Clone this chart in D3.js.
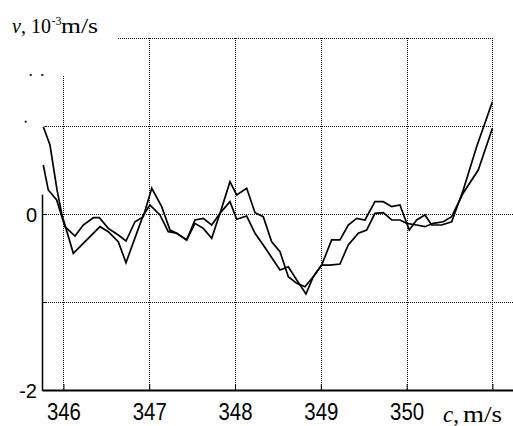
<!DOCTYPE html>
<html>
<head>
<meta charset="utf-8">
<script src="https://cdn.jsdelivr.net/npm/d3@7"></script>
<style>
  html, body { margin: 0; padding: 0; background: #fff; }
  svg { display: block; }
</style>
</head>
<body>
<script>
// ---------- data ----------
const xTicks = [346, 347, 348, 349, 350, 351];
const xTickLabels = ["346", "347", "348", "349", "350", ""];
const yTicks = [-2, -1, 0, 1, 2];
const yTickLabels = ["-2", "", "0", "", ""];

// series A: [c (m/s), v (10^-3 m/s)]
const seriesA = [
  [345.765, 0.992], [345.843, 0.784], [345.925, 0.273], [345.983, -0.011],
  [346.115, -0.447], [346.426, -0.144], [346.523, -0.201], [346.639, -0.315],
  [346.729, -0.553], [346.931, -0.011], [347.009, 0.102], [347.125, -0.011],
  [347.222, -0.201], [347.320, -0.219], [347.436, -0.295], [347.533, -0.106],
  [347.630, -0.163], [347.728, -0.276], [347.825, 0.008], [347.941, 0.140],
  [348.019, -0.060], [348.136, -0.023], [348.233, -0.219], [348.329, -0.352],
  [348.407, -0.466], [348.524, -0.636], [348.621, -0.599], [348.719, -0.750],
  [348.827, -0.909], [348.912, -0.713], [349.010, -0.580], [349.107, -0.580],
  [349.223, -0.568], [349.320, -0.352], [349.437, -0.219], [349.534, -0.182],
  [349.631, 0.008], [349.728, 0.015], [349.826, -0.068], [349.922, -0.068],
  [350.001, -0.106], [350.117, -0.125], [350.214, -0.144], [350.311, -0.106],
  [350.427, -0.088], [350.525, -0.031], [350.660, 0.239], [350.835, 0.500],
  [351.000, 0.974]
];

// series B
const seriesB = [
  [345.765, 0.557], [345.823, 0.273], [345.921, 0.159], [346.018, -0.144],
  [346.135, -0.250], [346.231, -0.125], [346.348, -0.042], [346.418, -0.042],
  [346.523, -0.163], [346.639, -0.239], [346.729, -0.307], [346.834, -0.088],
  [346.931, -0.031], [347.029, 0.292], [347.145, 0.083], [347.242, -0.182],
  [347.320, -0.219], [347.436, -0.295], [347.533, -0.068], [347.630, -0.049],
  [347.728, -0.125], [347.825, 0.008], [347.941, 0.367], [348.019, 0.216],
  [348.136, 0.292], [348.233, 0.015], [348.329, -0.031], [348.427, -0.315],
  [348.524, -0.428], [348.621, -0.713], [348.719, -0.788], [348.815, -0.826],
  [348.912, -0.713], [349.010, -0.580], [349.126, -0.295], [349.223, -0.295],
  [349.320, -0.125], [349.418, -0.049], [349.515, -0.068], [349.631, 0.140],
  [349.728, 0.140], [349.826, 0.083], [349.922, 0.102], [350.031, -0.182],
  [350.117, -0.068], [350.214, -0.011], [350.292, -0.125], [350.409, -0.125],
  [350.525, -0.088], [350.660, 0.273], [350.816, 0.765], [351.000, 1.276]
];

// ---------- drawing ----------
const W = 513, H = 426;
const svg = d3.select("body").append("svg").attr("width", W).attr("height", H);

const x = d3.scaleLinear().domain([345.75, 351.24]).range([42, 513]);
const y = d3.scaleLinear().domain([-2, 2]).range([390, 38]);

const grid = svg.append("g")
  .attr("stroke", "#000").attr("stroke-width", 1)
  .attr("stroke-dasharray", "1,1").attr("shape-rendering", "crispEdges");

grid.selectAll("line.v").data(xTicks).join("line").attr("class", "v")
  .attr("x1", d => Math.round(x(d)) + 0.5).attr("x2", d => Math.round(x(d)) + 0.5)
  .attr("y1", y(2)).attr("y2", y(-2));
grid.selectAll("line.h").data(yTicks.filter(d => d > -2)).join("line").attr("class", "h")
  .attr("y1", d => Math.round(y(d)) + 0.5).attr("y2", d => Math.round(y(d)) + 0.5)
  .attr("x1", x.range()[0]).attr("x2", x.range()[1]);

// axes
const xAxis = svg.append("g").attr("transform", `translate(0,${y(-2)})`)
  .call(d3.axisBottom(x).tickValues(xTicks).tickSizeInner(-6).tickSizeOuter(0)
    .tickFormat((d, i) => xTickLabels[i]));
xAxis.select(".domain").attr("stroke", "#000").attr("stroke-width", 2);
xAxis.selectAll(".tick line").attr("stroke", "#000").attr("stroke-width", 1);
xAxis.selectAll(".tick text")
  .attr("y", 30).attr("dy", 0)
  .attr("font-family", "'Liberation Sans', Arial, sans-serif")
  .attr("font-size", 23).attr("fill", "#000")
  .attr("textLength", d => d === 351 ? null : 34)
  .attr("lengthAdjust", "spacingAndGlyphs");

const yAxis = svg.append("g").attr("transform", `translate(${x(345.75)},0)`)
  .call(d3.axisLeft(y).tickValues(yTicks).tickSizeInner(-5).tickSizeOuter(0)
    .tickFormat((d, i) => yTickLabels[i]));
yAxis.select(".domain").attr("stroke", "#000").attr("stroke-width", 1.5);
yAxis.selectAll(".tick line").attr("stroke", "#000").attr("stroke-width", 1);
yAxis.selectAll(".tick text")
  .attr("x", -5).attr("dy", "0.35em")
  .attr("font-family", "'Liberation Sans', Arial, sans-serif")
  .attr("font-size", 20).attr("fill", "#000");

// white patches that cover parts of the frame in the original figure
const masks = svg.append("g").attr("fill", "#fff");
masks.append("rect").attr("x", 0).attr("y", 0).attr("width", 118).attr("height", y(2) + 5);
masks.append("rect").attr("x", 0).attr("y", 0).attr("width", x(346) + 5).attr("height", y(1.58));
masks.append("rect").attr("x", 0).attr("y", y(1.58)).attr("width", x(345.75) + 2.5)
  .attr("height", y(0.22) - y(1.58));
masks.append("rect").attr("x", x(351) + 1.5).attr("y", 0).attr("width", W)
  .attr("height", y(0) - 4);

// leftover specks near the y axis
const specks = [[30.7, 75], [42.3, 75], [25.7, 121.7]];
svg.append("g").selectAll("rect").data(specks).join("rect")
  .attr("x", d => d[0] - 1).attr("y", d => d[1] - 1)
  .attr("width", 2).attr("height", 2).attr("fill", "#222");

// axis titles
const title = svg.append("text")
  .attr("font-family", "'Liberation Serif', 'Times New Roman', serif")
  .attr("font-size", 20).attr("fill", "#000").attr("y", 33);
title.append("tspan").attr("x", 12).attr("font-style", "italic").text("v");
title.append("tspan").text(",");
title.append("tspan").attr("x", 31).text("10");
title.append("tspan").attr("x", 51.5).attr("dy", -8).attr("font-size", 12).text("-3");
title.append("tspan").attr("x", 61).attr("dy", 8).attr("textLength", 37)
  .attr("lengthAdjust", "spacingAndGlyphs").text("m/s");

const xl = svg.append("text")
  .attr("font-family", "'Liberation Serif', 'Times New Roman', serif")
  .attr("font-size", 23).attr("fill", "#000").attr("y", 422);
xl.append("tspan").attr("x", 443).attr("font-style", "italic").text("c");
xl.append("tspan").text(",");
xl.append("tspan").attr("x", 463).attr("textLength", 39)
  .attr("lengthAdjust", "spacingAndGlyphs").text("m/s");

// data lines
const line = d3.line().x(d => x(d[0])).y(d => y(d[1]));
svg.append("g").attr("fill", "none").attr("stroke", "#000")
  .attr("stroke-width", 1.7).attr("stroke-linejoin", "miter")
  .selectAll("path").data([seriesA, seriesB]).join("path")
  .attr("d", line);
</script>
</body>
</html>
